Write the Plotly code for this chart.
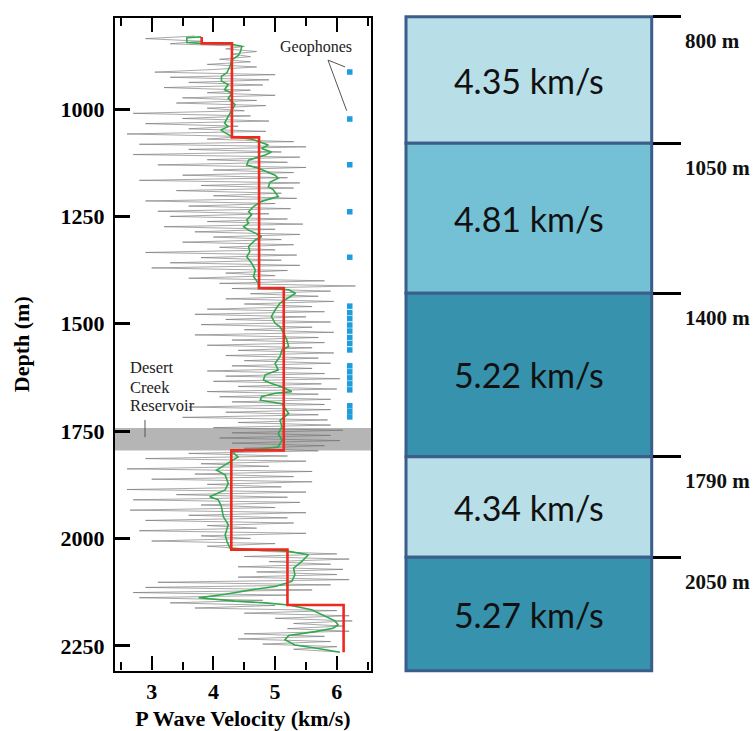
import plotly.graph_objects as go

W, H = 755, 731

# ---------------- sonic log (left panel) ----------------
# raw P-wave log, one sample every 6 m starting at 830 m (km/s)
log_top_m = 830
log_step_m = 6
log_vel = [
    3.7, 2.9, 3.8, 3.3, 4.5, 4.2, 4.7, 4.3, 4.6, 4.1,
    4.6, 3.9, 4.7, 4.0, 3.05, 5.0, 3.3, 4.9, 3.6, 4.8,
    3.2, 4.6, 3.9, 5.0, 3.5, 4.7, 3.4, 4.85, 3.9, 4.5,
    2.7, 4.6, 3.5, 4.9, 2.9, 4.4, 3.6, 4.85, 2.6, 4.5,
    3.9, 5.3, 2.8, 5.5, 3.6, 5.1, 2.7, 5.4, 3.9, 5.2,
    3.1, 5.5, 4.0, 5.3, 3.5, 5.2, 2.8, 5.4, 3.8, 5.3,
    3.4, 5.1, 4.0, 5.35, 2.9, 5.0, 3.6, 5.25, 3.1, 4.9,
    3.3, 5.2, 3.9, 5.45, 3.2, 5.0, 3.7, 5.4, 4.0, 5.1,
    3.5, 5.3, 4.1, 5.0, 2.9, 5.35, 3.8, 5.1, 3.3, 5.4,
    3.0, 5.2, 4.2, 5.0, 3.6, 5.8, 4.1, 6.3, 4.3, 5.9,
    4.6, 5.7, 4.2, 5.95, 4.5, 5.6, 3.9, 5.8, 3.7, 5.5,
    4.2, 5.9, 3.8, 5.6, 4.5, 5.95, 3.7, 5.7, 4.3, 5.8,
    3.9, 5.6, 4.4, 5.95, 4.2, 5.7, 4.5, 5.9, 4.3, 5.6,
    3.9, 5.8, 4.2, 6.05, 4.0, 5.75, 4.4, 6.0, 3.9, 5.7,
    4.1, 5.9, 4.3, 5.8, 3.6, 5.9, 4.2, 5.7, 3.5, 5.85,
    4.4, 5.9, 4.0, 6.1, 4.3, 5.9, 4.1, 6.05, 4.3, 5.8,
    4.5, 5.7, 3.6, 5.2, 2.9, 5.5, 3.8, 4.9, 2.6, 5.6,
    3.7, 5.3, 3.0, 5.6, 3.9, 5.1, 2.6, 5.5, 3.4, 5.2,
    2.7, 5.4, 3.8, 5.0, 2.65, 5.5, 3.6, 5.2, 2.9, 5.3,
    3.9, 4.7, 2.8, 5.5, 3.8, 4.6, 3.0, 5.0, 3.9, 4.5,
    4.8, 6.0, 4.5, 6.2, 4.9, 5.9, 4.4, 6.1, 4.7, 6.0,
    4.4, 6.2, 3.1, 5.9, 2.9, 5.6, 2.7, 5.2, 2.8, 4.8,
    3.3, 5.0, 3.7, 6.0, 4.5, 6.2, 5.0, 6.25, 5.3, 6.1,
    5.2, 6.2, 4.5, 5.8, 4.4, 5.9, 4.8, 6.0, 5.3, 6.0,
]
log_depth = [log_top_m + i * log_step_m for i in range(len(log_vel))]

# smoothed log
smooth_depth = [
    832, 834, 845, 847, 849, 854, 866, 876, 885, 900, 915, 924, 935, 943, 955,
    963, 975, 990, 1002, 1017, 1033, 1041, 1049, 1056, 1064, 1070, 1084, 1092,
    1100, 1107, 1119, 1130, 1138, 1154, 1161, 1170, 1181, 1188, 1204, 1215,
    1227, 1239, 1246, 1258, 1266, 1274, 1282, 1289, 1297, 1305, 1320, 1332,
    1344, 1359, 1375, 1390, 1406, 1416, 1421, 1429, 1437, 1452, 1468, 1483,
    1499, 1507, 1522, 1538, 1553, 1561, 1576, 1592, 1608, 1619, 1631, 1639,
    1647, 1658, 1662, 1670, 1678, 1682, 1686, 1697, 1709, 1725, 1740, 1756,
    1771, 1787, 1798, 1810, 1825, 1841, 1852, 1872, 1887, 1903, 1910, 1926,
    1949, 1968, 1992, 2007, 2023, 2030, 2038, 2054, 2069, 2085, 2100, 2112,
    2117, 2130, 2138, 2146, 2150, 2155, 2166, 2178, 2192, 2201, 2209, 2217,
    2226, 2236, 2248, 2255, 2265,
]
smooth_vel = [
    3.80, 3.57, 3.57, 3.80, 4.30, 4.46, 4.44, 4.40, 4.30, 4.27, 4.22, 4.13, 4.13, 4.24, 4.18,
    4.30, 4.24, 4.35, 4.30, 4.24, 4.18, 4.24, 4.12, 4.20, 4.30, 4.62, 4.89, 4.78,
    4.94, 4.84, 4.57, 4.54, 4.73, 5.00, 5.05, 4.92, 4.89, 4.97, 5.05, 4.78,
    4.65, 4.57, 4.62, 4.54, 4.57, 4.49, 4.57, 4.68, 4.78, 4.68, 4.57, 4.59,
    4.54, 4.62, 4.68, 4.65, 4.73, 4.73, 5.22, 5.33, 5.25, 5.08, 5.00, 4.94,
    5.00, 5.08, 5.14, 5.19, 5.22, 5.11, 5.08, 5.00, 5.05, 4.84, 4.81, 4.94,
    5.11, 5.27, 5.00, 4.78, 4.76, 4.94, 5.11, 5.16, 5.22, 5.08, 5.11, 5.05,
    5.11, 5.05, 4.30, 4.40, 4.24, 4.05, 4.19, 4.24, 4.19, 3.94, 4.08, 4.13,
    4.16, 4.24, 4.19, 4.22, 4.27, 5.22, 5.54, 5.43, 5.30, 5.32, 5.27, 5.00,
    4.73, 4.19, 3.76, 4.35, 4.84, 5.22, 5.59, 5.76, 5.97, 6.02, 5.94, 5.65,
    5.22, 5.16, 5.32, 5.65, 6.05,
]

# blocked (layer-averaged) velocity
block_tops_m = [832, 847, 1066, 1417, 1795, 2026, 2155]
block_bottom_m = 2265
block_vel = [3.81, 4.30, 4.74, 5.14, 4.29, 5.20, 6.11]

# receiver depths
geophone_depth = [914, 1023, 1130, 1239, 1345,
                  1459, 1474, 1488, 1503, 1517, 1532, 1546, 1561,
                  1598, 1612, 1626, 1640, 1654,
                  1691, 1704, 1717]
geophone_vel_pos = 6.21

reservoir_top_m, reservoir_base_m = 1743, 1795

depth_ticks = [1000, 1250, 1500, 1750, 2000, 2250]
vel_ticks = [3, 4, 5, 6]
vel_minor_ticks = [2.5, 3.5, 4.5, 5.5, 6.5]

# ---------------- layered model (right panel) ----------------
layer_tops_m = [800, 1050, 1400, 1790, 2050]
layer_vel = [4.35, 4.81, 5.22, 4.34, 5.27]

# schematic row edges of the layer column (fraction of the column height)
panel_edges = [0.0, 0.1936, 0.4229, 0.6728, 0.8266, 1.0]
layer_colors = ['#b8dee8', '#74c0d4', '#3692ad', '#b8dee8', '#3692ad']

SERIF = 'Liberation Serif, Times New Roman, serif'


def px_x(p):
    return p / W


def px_y(p):
    return 1 - p / H


fig = go.Figure()

fig.add_trace(go.Scatter(
    x=log_vel, y=log_depth, mode='lines',
    line=dict(color='rgba(115,115,115,0.62)', width=1),
    xaxis='x', yaxis='y', hoverinfo='skip', showlegend=False))

fig.add_trace(go.Scatter(
    x=smooth_vel, y=smooth_depth, mode='lines',
    line=dict(color='#2fa94a', width=1.6),
    xaxis='x', yaxis='y', showlegend=False))

fig.add_trace(go.Scatter(
    x=block_vel + [block_vel[-1]], y=block_tops_m + [block_bottom_m],
    mode='lines', line=dict(color='#f0281f', width=2.6, shape='vh'),
    xaxis='x', yaxis='y', showlegend=False))

fig.add_trace(go.Scatter(
    x=[geophone_vel_pos] * len(geophone_depth), y=geophone_depth,
    mode='markers', marker=dict(symbol='square', size=5.5, color='#1d9ddb'),
    xaxis='x', yaxis='y', showlegend=False))

# layer column
heights = [panel_edges[i + 1] - panel_edges[i] for i in range(len(layer_vel))]
fig.add_trace(go.Bar(
    x=[0] * len(layer_vel), y=heights, base=panel_edges[:-1], width=1,
    marker=dict(color=layer_colors, line=dict(color='#3a5d8b', width=3)),
    text=[f'{v:.2f} km/s' for v in layer_vel],
    textposition='inside', insidetextanchor='middle', textangle=0,
    constraintext='none',
    textfont=dict(family='Lato, Noto Sans, sans-serif', size=34, color='#111111'),
    xaxis='x2', yaxis='y2', showlegend=False, hoverinfo='skip'))

shapes = [
    # reservoir interval
    dict(type='rect', xref='x domain', yref='y', x0=0, x1=1,
         y0=reservoir_top_m, y1=reservoir_base_m,
         fillcolor='#b5b5b5', line=dict(width=0), layer='below'),
    # reservoir marker
    dict(type='line', xref='x', yref='y', x0=2.891, x1=2.891, y0=1724, y1=1764,
         line=dict(color='#555555', width=1)),
    # geophone pointers
    dict(type='line', xref='x', yref='y', x0=5.857, y0=886, x1=6.133, y1=902,
         line=dict(color='#555555', width=1)),
    dict(type='line', xref='x', yref='y', x0=5.857, y0=886, x1=6.16, y1=1004,
         line=dict(color='#555555', width=1)),
]

annotations = [
    dict(text='Geophones', x=5.67, y=855, xref='x', yref='y', showarrow=False,
         font=dict(family=SERIF, size=16, color='#222222')),
]
for word, d in zip(['Desert', 'Creek', 'Reservoir'], [1603, 1648, 1691]):
    annotations.append(dict(text=word, x=2.62, y=d, xref='x', yref='y',
                            xanchor='left', showarrow=False,
                            font=dict(family=SERIF, size=16.5, color='#222222')))
for edge, d in zip(panel_edges[:-1], layer_tops_m):
    annotations.append(dict(text=f'{d} m', x=px_x(683), y=edge, xref='paper', yref='y2',
                            xanchor='left', yanchor='middle', yshift=-24.5,
                            showarrow=False,
                            font=dict(family=SERIF, size=21, color='#111111', weight='bold')))

fig.update_layout(
    width=W, height=H,
    margin=dict(l=0, r=0, t=0, b=0),
    paper_bgcolor='white', plot_bgcolor='white',
    showlegend=False,
    shapes=shapes, annotations=annotations,
    xaxis=dict(
        domain=[px_x(115), px_x(371)], range=[2.405, 6.554], anchor='y',
        tickvals=vel_ticks, ticks='inside', ticklen=14, tickwidth=2, tickcolor='black',
        minor=dict(tickvals=vel_minor_ticks, ticks='inside', ticklen=8, tickwidth=2,
                   tickcolor='black'),
        showline=True, linewidth=2.2, linecolor='black', mirror='ticks',
        showgrid=False, zeroline=False,
        tickfont=dict(family=SERIF, size=22, color='black', weight='bold'),
        title=dict(text='P Wave Velocity (km/s)', standoff=9,
                   font=dict(family=SERIF, size=22, color='black', weight='bold')),
    ),
    yaxis=dict(
        domain=[px_y(670.5), px_y(18)], range=[2307.5, 788], anchor='x',
        tickvals=depth_ticks, ticks='inside', ticklen=15, tickwidth=2.5, tickcolor='black',
        showline=True, linewidth=2.2, linecolor='black', mirror=True,
        showgrid=False, zeroline=False, ticklabelstandoff=4,
        tickfont=dict(family=SERIF, size=22, color='black', weight='bold'),
        title=dict(text='Depth (m)', standoff=25,
                   font=dict(family=SERIF, size=22, color='black', weight='bold')),
    ),
    xaxis2=dict(
        domain=[px_x(400), px_x(660)], range=[-0.5244, 0.5338], anchor='y2',
        visible=False, fixedrange=True,
    ),
    yaxis2=dict(
        domain=[px_y(677), px_y(10)], range=[1.00963, -0.01024],
        anchor='free', position=px_x(651.7), side='right',
        tickvals=panel_edges[:-1], ticks='outside', ticklen=28, tickwidth=3,
        tickcolor='black', showticklabels=False,
        showline=False, showgrid=False, zeroline=False,
    ),
)

fig.write_html('out.html')
